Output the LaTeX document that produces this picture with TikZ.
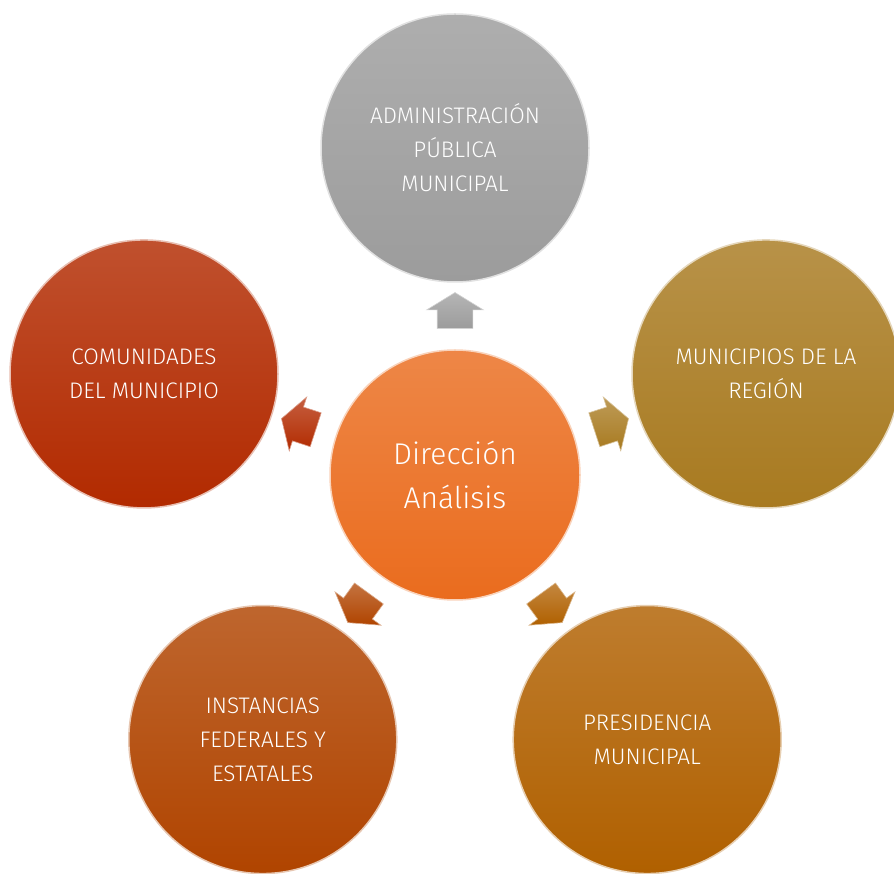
\documentclass[tikz,border=0pt]{standalone}
\usepackage{fontspec}
\setmainfont{Fira Sans Light}
\usetikzlibrary{shapes.arrows, calc}

\definecolor{gris}{HTML}{9C9C9C}
\definecolor{rojo}{HTML}{B22A00}
\definecolor{oro}{HTML}{A87A20}
\definecolor{teja}{HTML}{B04400}
\definecolor{ocre}{HTML}{B06000}
\definecolor{naranja}{HTML}{EA6C1E}

\tikzset{
  tema/.style={circle, minimum size=268pt, inner sep=0pt, align=center,
    text=white, font=\fontsize{22.5}{34}\selectfont,
    top color=#1!82!white, bottom color=#1, draw=#1!30!white, line width=1.5pt},
  centro/.style={tema=naranja, minimum size=250pt, font=\fontsize{30}{44}\selectfont},
  flecha/.style={single arrow, minimum height=36pt, text height=35pt, text depth=0pt,
    single arrow head extend=10.5pt, single arrow tip angle=117, inner sep=0pt,
    top color=#1!75!white, bottom color=#1, draw=#1!45!white, line width=0.6pt}
}

\begin{document}
\begin{tikzpicture}[x=1pt,y=1pt]
\useasboundingbox (0,0) rectangle (894,873);
\node[centro] (dir) at (455,398) {Dirección\\Análisis};
% cinco temas alrededor
\foreach \ang/\nm/\col/\txt in {90/adm/gris/{ADMINISTRACIÓN\\PÚBLICA\\MUNICIPAL},
    162/com/rojo/{COMUNIDADES\\DEL MUNICIPIO},
    234/ins/teja/{INSTANCIAS\\FEDERALES Y\\ESTATALES},
    306/pre/ocre/{PRESIDENCIA\\MUNICIPAL},
    18/mun/oro/{MUNICIPIOS DE LA\\REGIÓN}}{
  \pgfmathtruncatemacro\opp{mod(\ang+180,360)}
  \node[tema=\col] (\nm) at ($(dir)+(\ang:327)$) {\txt};
  \node[flecha=\col, rotate=\ang] (f\nm) at ($(dir.\ang)!0.5!(\nm.\opp)$) {};
}
\end{tikzpicture}
\end{document}
